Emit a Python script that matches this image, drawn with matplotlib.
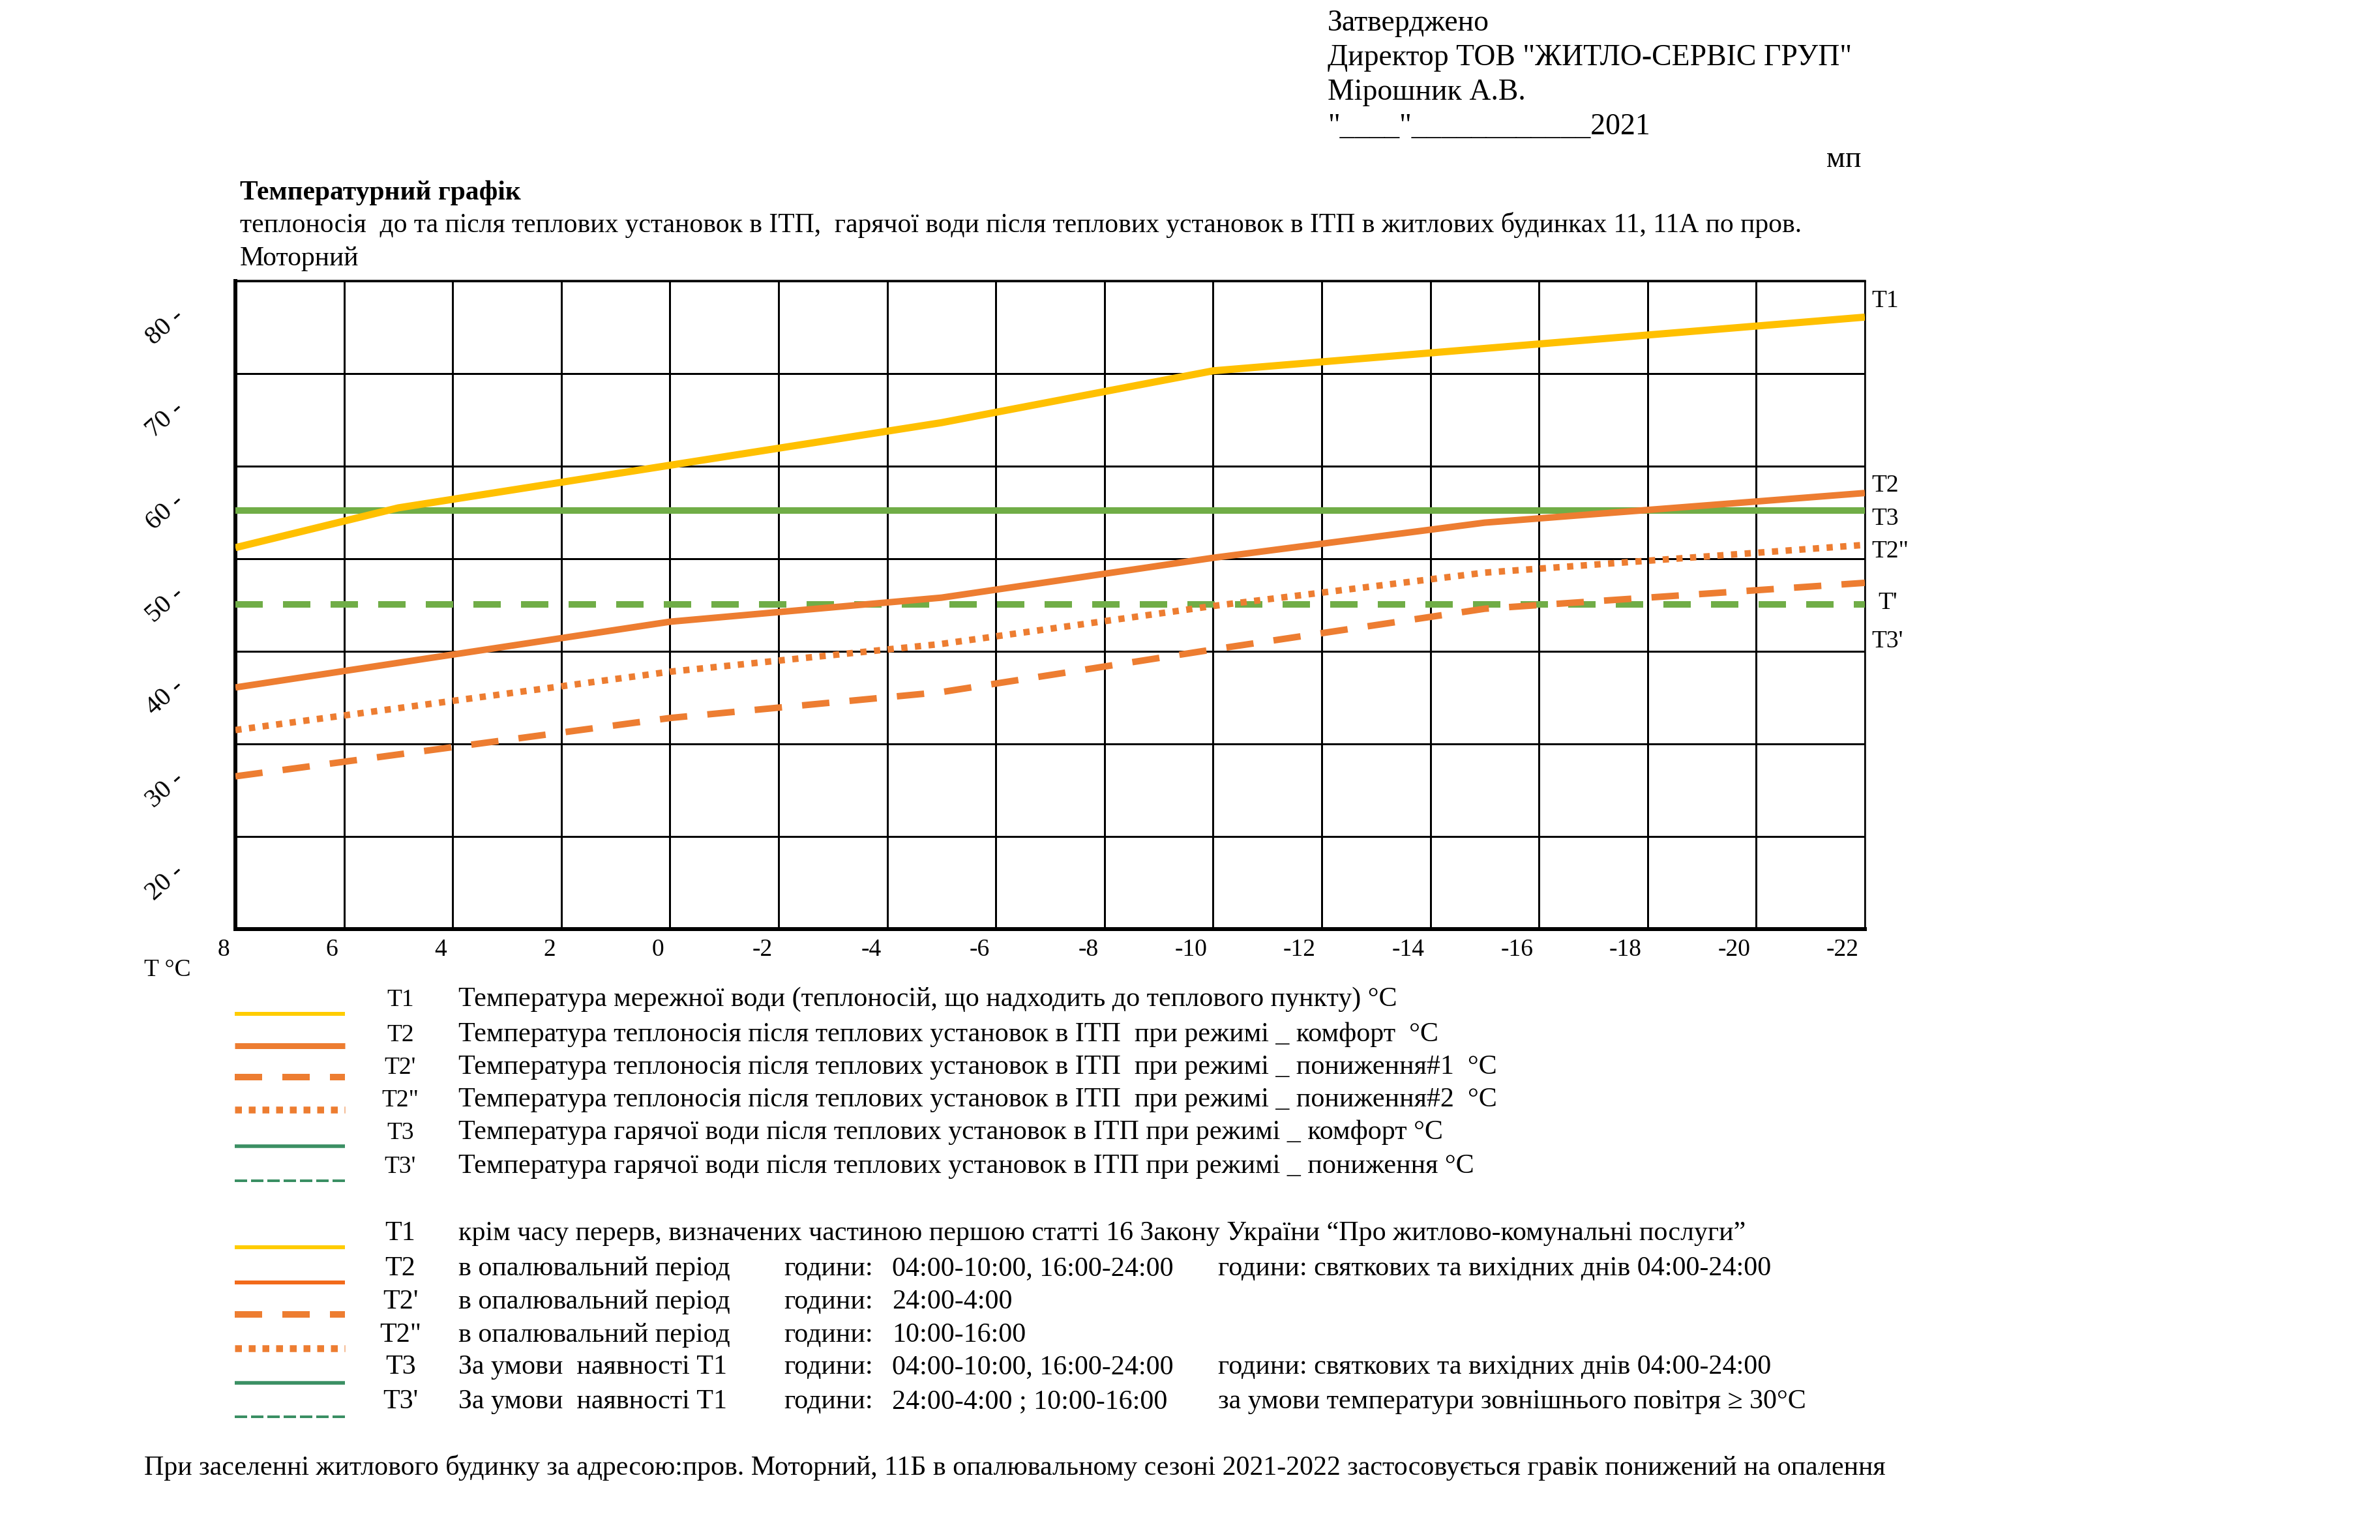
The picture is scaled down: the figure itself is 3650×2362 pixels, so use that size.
import matplotlib
matplotlib.use("Agg")
import matplotlib.pyplot as plt
from matplotlib.lines import Line2D
from matplotlib.transforms import ScaledTranslation, blended_transform_factory

plt.rcParams['font.family'] = ['Liberation Serif', 'DejaVu Serif']

# ---------------- data ----------------
x_ticks = [8, 6, 4, 2, 0, -2, -4, -6, -8, -10, -12, -14, -16, -18, -20, -22]
y_labels = [20, 30, 40, 50, 60, 70, 80]
y_grid = [15, 25, 35, 45, 55, 65, 75, 85]

x_t1 = [8, 5, 0, -5, -10, -22]
t1 = [56.2, 60.5, 65.1, 69.7, 75.3, 81.1]

x_t2 = [8, 0, -5, -10, -15, -22]
t2 = [41.1, 48.2, 50.8, 55.1, 58.9, 62.1]

x_t2a = [8, 0, -5, -10, -15, -22]      # T2'
t2a = [31.5, 37.8, 40.6, 45.2, 49.6, 52.4]

x_t2b = [8, 0, -5, -10, -15, -22]      # T2''
t2b = [36.5, 42.8, 45.8, 49.9, 53.5, 56.5]

x_t3 = [8, -22]
t3 = [60.2, 60.2]
t3a = [50.1, 50.1]                      # T3'

right_labels = ["T1", "T2", "T3", 'T2"', "T'", "T3'"]

header_lines = ["Затверджено", 'Директор ТОВ "ЖИТЛО-СЕРВІС ГРУП"',
                "Мірошник А.В.", '"____"____________2021']
stamp = "мп"
title = "Температурний графік"
subtitle1 = ("теплоносія  до та після теплових установок в ІТП,  гарячої води після "
             "теплових установок в ІТП в житлових будинках 11, 11А по пров.")
subtitle2 = "Моторний"
x_axis_label = "T °C"

legend1_keys = ["T1", "T2", "T2'", 'T2"', "T3", "T3'"]
legend1_texts = [
    "Температура мережної води (теплоносій, що надходить до теплового пункту) °С",
    "Температура теплоносія після теплових установок в ІТП  при режимі _ комфорт  °С",
    "Температура теплоносія після теплових установок в ІТП  при режимі _ пониження#1  °С",
    "Температура теплоносія після теплових установок в ІТП  при режимі _ пониження#2  °С",
    "Температура гарячої води після теплових установок в ІТП при режимі _ комфорт °С",
    "Температура гарячої води після теплових установок в ІТП при режимі _ пониження °С",
]
legend2_keys = ["T1", "T2", "T2'", 'T2"', "T3", "T3'"]
legend2_col1 = [
    "крім часу перерв, визначених частиною першою статті 16 Закону України “Про житлово-комунальні послуги”",
    "в опалювальний період", "в опалювальний період", "в опалювальний період",
    "За умови  наявності Т1", "За умови  наявності Т1",
]
legend2_col2 = ["", "години:", "години:", "години:", "години:", "години:"]
legend2_col3 = ["", "04:00-10:00, 16:00-24:00", "24:00-4:00", "10:00-16:00",
                "04:00-10:00, 16:00-24:00", "24:00-4:00 ; 10:00-16:00"]
legend2_col4 = ["", "години: святкових та вихідних днів 04:00-24:00", "", "",
                "години: святкових та вихідних днів 04:00-24:00",
                "за умови температури зовнішнього повітря ≥ 30°С"]
bottom_note = ("При заселенні житлового будинку за адресою:пров. Моторний, 11Б в "
               "опалювальному сезоні 2021-2022 застосовується гравік понижений на опалення")

# ---------------- styles ----------------
YEL = "#FFC000"
ORA = "#ED7D31"
GRN = "#70AD47"
LEG_YEL = "#FFCC00"
LEG_GRN = "#3A8F63"
LEG_ORA2 = "#F26A1B"

W, H = 3650, 2362
DPI = 100
fig = plt.figure(figsize=(W / DPI, H / DPI), dpi=DPI)
fig.patch.set_facecolor("white")


def fx(x):
    return x / W


def fy(y):
    return 1 - y / H


def pt(px):
    return px * 72.0 / DPI


renderer = fig.canvas.get_renderer()


def fit(t, target_px):
    bb = t.get_window_extent(renderer)
    t.set_fontsize(t.get_fontsize() * target_px / bb.width)
    return t.get_fontsize()


# ---------------- axes ----------------
L, R, T, B = 361, 2860, 431, 1425
ax = fig.add_axes([fx(L), fy(B), fx(R - L), (B - T) / H])
ax.set_xlim(8, -22)
ax.set_ylim(15, 85)
ax.set_xticks(x_ticks)
ax.set_yticks(y_grid)
ax.set_yticklabels([])
ax.grid(True, color="black", linewidth=pt(3))
ax.set_axisbelow(True)
ax.tick_params(axis="both", length=0)
ax.tick_params(axis="x", pad=pt(14), labelsize=27)
ax.set_xticklabels([str(v) for v in x_ticks])
for lab in ax.get_xticklabels():
    lab.set_ha("right")
    lab.set_transform(lab.get_transform() + ScaledTranslation(-9 / DPI, 0, fig.dpi_scale_trans))
for s in ["left", "bottom"]:
    ax.spines[s].set_linewidth(pt(6))
ax.spines["top"].set_linewidth(pt(3.5))
ax.spines["right"].set_linewidth(pt(2.5))
for s in ax.spines.values():
    s.set_color("black")

lw = pt(10)
ax.plot(x_t1, t1, color=YEL, lw=pt(11), solid_capstyle="butt", zorder=5)
ax.plot(x_t3, t3, color=GRN, lw=lw, solid_capstyle="butt", zorder=4)
ax.plot(x_t3, t3a, color=GRN, lw=lw, dashes=(4.2, 3.1), dash_capstyle="butt", zorder=4)
ax.plot(x_t2, t2, color=ORA, lw=lw, solid_capstyle="butt", zorder=5)
ax.plot(x_t2b, t2b, color=ORA, lw=lw, dashes=(0.95, 1.15), dash_capstyle="butt", zorder=5)
ax.plot(x_t2a, t2a, color=ORA, lw=lw, dashes=(4.2, 3.1), dash_capstyle="butt", zorder=5)

# y labels (rotated)
ytr = blended_transform_factory(ax.transAxes, ax.transData)
for v in y_labels:
    ax.text((253 - L) / (R - L), v, f"{v} -", transform=ytr, rotation=42,
            ha="center", va="center", rotation_mode="anchor", fontsize=29, clip_on=False)

# right labels
right_pos = [(2870, 462), (2870, 745), (2870, 796), (2870, 846), (2880, 925), (2870, 984)]
for lab, (x, y) in zip(right_labels, right_pos):
    fig.text(fx(x), fy(y), lab, ha="left", va="center", fontsize=27)

fig.text(fx(221), fy(1497), x_axis_label, ha="left", va="baseline", fontsize=27)

# ---------------- header ----------------
hb = [47, 100, 153, 206]
ht = []
for s, y in zip(header_lines, hb):
    ht.append(fig.text(fx(2036), fy(y), s, ha="left", va="baseline", fontsize=30))
hfs = fit(ht[1], 804)
for t in ht:
    t.set_fontsize(hfs)
fig.text(fx(2801), fy(256), stamp, ha="left", va="baseline", fontsize=hfs)

t_title = fig.text(fx(368), fy(306), title, ha="left", va="baseline", fontsize=27, fontweight="bold")
fit(t_title, 431)
t_sub = fig.text(fx(368), fy(356), subtitle1, ha="left", va="baseline", fontsize=27)
sfs = fit(t_sub, 2395)
fig.text(fx(368), fy(407), subtitle2, ha="left", va="baseline", fontsize=sfs)

# ---------------- legend block 1 ----------------
l1_base = [1543, 1597, 1647, 1697, 1747, 1799]
l1_line = [1555, 1604, 1652, 1702, 1758, 1811]
l1t = []
for k, s, y in zip(legend1_keys, legend1_texts, l1_base):
    fig.text(fx(614), fy(y), k, ha="center", va="baseline", fontsize=27)
    l1t.append(fig.text(fx(703), fy(y), s, ha="left", va="baseline", fontsize=27))
lfs = fit(l1t[0], 1437)
for t in l1t:
    t.set_fontsize(lfs)

styles1 = [
    dict(color=LEG_YEL, lw=pt(6)),
    dict(color=ORA, lw=pt(9)),
    dict(color=ORA, lw=pt(10), dashes=(4.2, 3.1)),
    dict(color=ORA, lw=pt(10.5), dashes=(1.0, 1.0)),
    dict(color=LEG_GRN, lw=pt(5.5)),
    dict(color=LEG_GRN, lw=pt(4), dashes=(4.75, 1.5)),
]
styles2 = [
    dict(color=LEG_YEL, lw=pt(6)),
    dict(color=LEG_ORA2, lw=pt(6)),
    dict(color=ORA, lw=pt(10), dashes=(4.2, 3.1)),
    dict(color=ORA, lw=pt(10.5), dashes=(1.0, 1.0)),
    dict(color=LEG_GRN, lw=pt(5.5)),
    dict(color=LEG_GRN, lw=pt(4), dashes=(4.75, 1.5)),
]


def sample(y, st):
    kw = dict(st)
    dashes = kw.pop("dashes", None)
    ln = Line2D([fx(360), fx(529)], [fy(y), fy(y)], transform=fig.transFigure,
                solid_capstyle="butt", dash_capstyle="butt", **kw)
    if dashes is not None:
        ln.set_dashes(dashes)
    fig.add_artist(ln)


for y, st in zip(l1_line, styles1):
    sample(y, st)

# ---------------- legend block 2 ----------------
l2_base = [1902, 1956, 2007, 2058, 2107, 2160]
l2_line = [1913, 1967, 2016, 2068, 2121, 2173]
for i, y in enumerate(l2_base):
    fig.text(fx(614), fy(y), legend2_keys[i], ha="center", va="baseline", fontsize=lfs)
    fig.text(fx(703), fy(y), legend2_col1[i], ha="left", va="baseline", fontsize=lfs)
    if legend2_col2[i]:
        fig.text(fx(1202), fy(y), legend2_col2[i], ha="left", va="baseline", fontsize=lfs)
    if legend2_col3[i]:
        fig.text(fx(1368), fy(y), legend2_col3[i], ha="left", va="baseline", fontsize=lfs)
    if legend2_col4[i]:
        fig.text(fx(1868), fy(y), legend2_col4[i], ha="left", va="baseline", fontsize=lfs)
for y, st in zip(l2_line, styles2):
    sample(y, st)

t_note = fig.text(fx(221), fy(2262), bottom_note, ha="left", va="baseline", fontsize=lfs)
fit(t_note, 2674)

fig.savefig("out.png", dpi=DPI, facecolor="white")
